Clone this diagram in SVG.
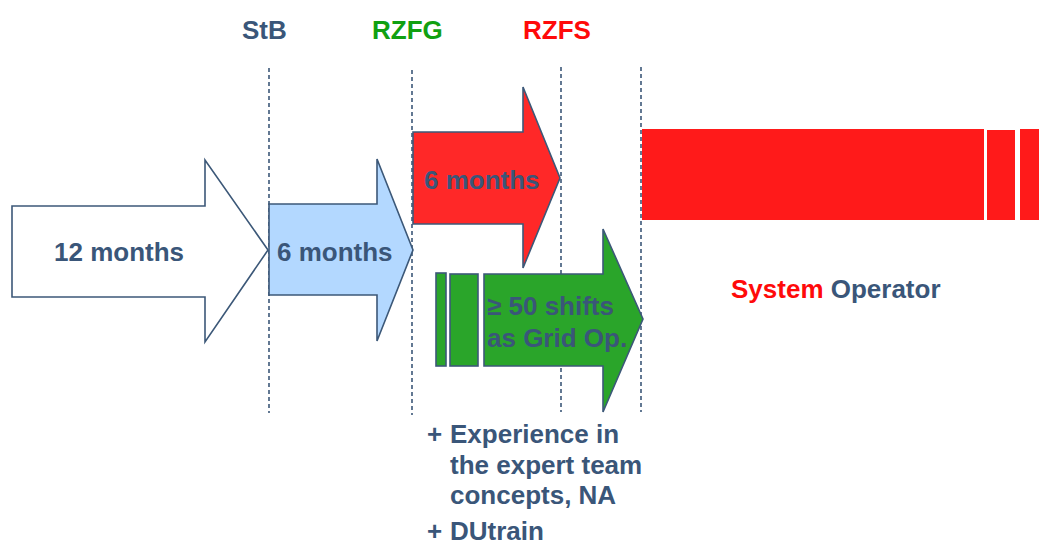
<svg xmlns="http://www.w3.org/2000/svg" width="1044" height="546" viewBox="0 0 1044 546">
  <style>
    text { font-family: "Liberation Sans", Arial, sans-serif; font-weight: bold; font-size: 26px; }
    .dk { fill: #3A5679; }
    .arrow { stroke: #3C5878; stroke-width: 1.6; stroke-linejoin: miter; }
    .guide { stroke: #3C5878; stroke-width: 1.6; stroke-dasharray: 4 3; fill: none; }
  </style>
  <rect width="1044" height="546" fill="#FFFFFF"/>

  <!-- phase headers -->
  <g id="headers">
    <text x="242" y="39" class="dk">StB</text>
    <text x="372" y="39" fill="#11A011">RZFG</text>
    <text x="523" y="39" fill="#FF0A0A">RZFS</text>
  </g>

  <!-- phase boundaries -->
  <g id="connectors">
    <line class="guide" x1="269" y1="68" x2="269" y2="413"/>
    <line class="guide" x1="412" y1="70" x2="412" y2="415" stroke-width="2.4"/>
    <line class="guide" x1="561" y1="67" x2="561" y2="412"/>
    <line class="guide" x1="641" y1="67" x2="641" y2="412"/>
  </g>

  <g id="stb-arrow">
    <polygon class="arrow" fill="#FFFFFF" points="12,206 205,206 205,160 268,250 205,342 205,297 12,297"/>
    <text x="54" y="261" class="dk">12 months</text>
  </g>

  <g id="stb-phase">
    <polygon class="arrow" fill="#B3D8FF" points="269,204 377,204 377,159 413,250 377,341 377,295 269,295"/>
    <text x="277" y="261" class="dk">6 months</text>
  </g>

  <g id="rzfs-phase">
    <polygon class="arrow" fill="#FF2828" points="413,132 523,132 523,87 560,178 523,268 523,224 413,224"/>
    <text x="424" y="189" class="dk">6 months</text>
  </g>

  <g id="rzfg-shifts">
    <rect class="arrow" fill="#2AA52A" x="436" y="273" width="10" height="93"/>
    <rect class="arrow" fill="#2AA52A" x="450" y="274" width="28" height="92"/>
    <polygon class="arrow" fill="#2AA52A" points="484,274 603,274 603,229 643,319 603,412 603,366 484,366"/>
    <text x="487" y="315" class="dk">≥ 50 shifts</text>
    <text x="487" y="347" class="dk">as Grid Op.</text>
  </g>

  <g id="system-operator">
    <rect x="642" y="129" width="342" height="91" fill="#FF1A1A"/>
    <rect x="987" y="130" width="28" height="90" fill="#FF1A1A"/>
    <rect x="1020" y="129" width="19" height="91" fill="#FF1A1A"/>
    <text x="731" y="298"><tspan fill="#FF0A0A">System</tspan><tspan class="dk"> Operator</tspan></text>
  </g>

  <g id="requirements">
    <text x="427" y="443" class="dk">+</text>
    <text x="450" y="443" class="dk">Experience in</text>
    <text x="450" y="474" class="dk">the expert team</text>
    <text x="450" y="504" class="dk">concepts, NA</text>
    <text x="427" y="540" class="dk">+</text>
    <text x="450" y="540" class="dk">DUtrain</text>
  </g>
</svg>
